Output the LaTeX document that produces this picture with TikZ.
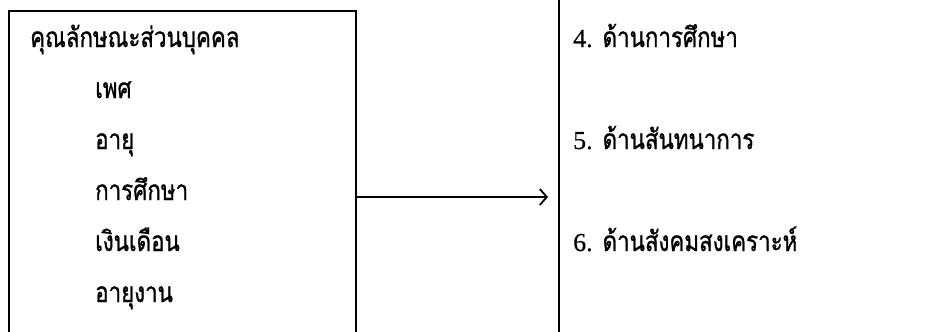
\documentclass[tikz,border=0pt]{standalone}
\usepackage{fontspec}
\usetikzlibrary{arrows.meta}
\newfontfamily\thaifont[Script=Thai, FakeStretch=0.8, FakeBold=0.9]{Loma}
\newfontfamily\numfont[FakeBold=0.4]{Liberation Serif}
\newcommand{\numlabel}[1]{{\numfont\fontsize{26}{28}\selectfont #1}}
\tikzset{
  frame/.style={draw=black, line width=1.5bp, inner sep=0pt, anchor=north west},
  label/.style={anchor=base west, inner sep=0pt, font=\thaifont\fontsize{28}{30}\selectfont},
  conn/.style={draw=black, line width=1.5bp, -{Straight Barb[length=7bp,width=16bp,line width=1.8bp]}}
}
\begin{document}
\begin{tikzpicture}[x=1bp, y=-1bp]
  \useasboundingbox (0,0) rectangle (935,331);
  \clip (0,0) rectangle (935,331);
  \fill[white] (0,0) rectangle (935,331);

  % personal characteristics box (runs past the lower edge)
  \node[frame, minimum width=347bp, minimum height=360bp] (lbox) at (8,10) {};
  % outcome box (runs past the upper, lower and right edges)
  \node[frame, minimum width=500bp, minimum height=400bp] (rbox) at (558,-30) {};

  % left column
  \node[label] (title) at (30,47) {คุณลักษณะส่วนบุคคล};
  \node[label] (sex)   at (95,98)  {เพศ};
  \node[label] (age)   at (95,149) {อายุ};
  \node[label] (edu)   at (95,200) {การศึกษา};
  \node[label] (pay)   at (95,251) {เงินเดือน};
  \node[label] (tenure) at (95,302) {อายุงาน};

  % right column
  \node[label] (d4) at (573,47)  {\numlabel{4.} ด้านการศึกษา};
  \node[label] (d5) at (573,149) {\numlabel{5.} ด้านสันทนาการ};
  \node[label] (d6) at (573,251) {\numlabel{6.} ด้านสังคมสงเคราะห์};

  % connector
  \coordinate (arrowrow) at (0,197);
  \draw[conn] (lbox.east |- arrowrow) -- ([xshift=-10bp]rbox.west |- arrowrow);
\end{tikzpicture}
\end{document}
